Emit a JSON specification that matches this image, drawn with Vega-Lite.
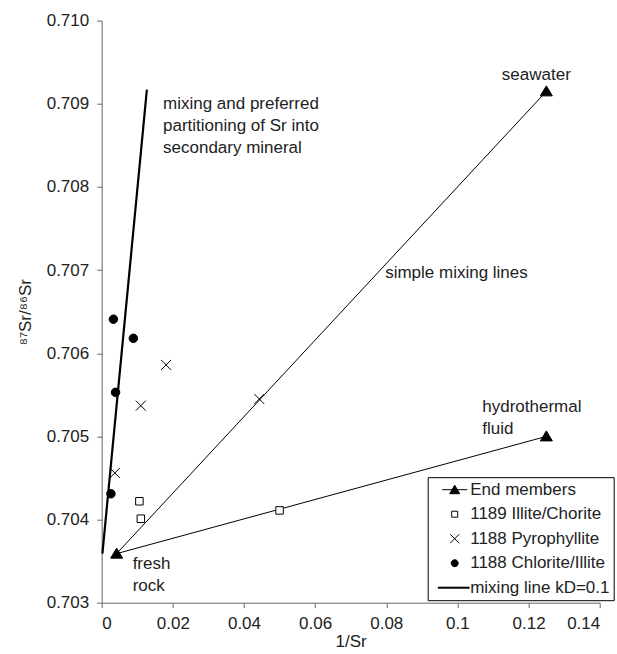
{
  "$schema": "https://vega.github.io/schema/vega-lite/v6.json",
  "autosize": {"type": "none"},
  "width": 498,
  "height": 582,
  "padding": {"left": 101.7, "top": 20.7, "right": 17, "bottom": 51},
  "background": "white",
  "config": {
    "font": "Liberation Sans",
    "view": {"stroke": null},
    "axis": {
      "grid": false,
      "domainColor": "#666",
      "tickColor": "#666",
      "labelColor": "#222",
      "titleColor": "#222",
      "labelFontSize": 17,
      "titleFontSize": 17,
      "titleFontWeight": "normal",
      "tickSize": 5,
      "labelFont": "Liberation Sans",
      "titleFont": "Liberation Sans"
    }
  },
  "datasets": {
    "main": [
      {"series": "End members", "name": "seawater", "seq": 1, "x": 0.125, "y": 0.70915},
      {"series": "End members", "name": "fresh rock", "seq": 2, "x": 0.0042, "y": 0.70359},
      {"series": "End members", "name": "hydrothermal fluid", "seq": 3, "x": 0.125, "y": 0.705},
      {"series": "1189 Illite/Chorite", "x": 0.0106, "y": 0.70422},
      {"series": "1189 Illite/Chorite", "x": 0.011, "y": 0.70401},
      {"series": "1189 Illite/Chorite", "x": 0.05, "y": 0.70411},
      {"series": "1188 Pyrophyllite", "x": 0.0181, "y": 0.70586},
      {"series": "1188 Pyrophyllite", "x": 0.011, "y": 0.70537},
      {"series": "1188 Pyrophyllite", "x": 0.0037, "y": 0.70456},
      {"series": "1188 Pyrophyllite", "x": 0.0443, "y": 0.70545},
      {"series": "1188 Chlorite/Illite", "x": 0.0033, "y": 0.70641},
      {"series": "1188 Chlorite/Illite", "x": 0.0089, "y": 0.70618},
      {"series": "1188 Chlorite/Illite", "x": 0.0039, "y": 0.70553},
      {"series": "1188 Chlorite/Illite", "x": 0.0026, "y": 0.70431},
      {"series": "mixing line kD=0.1", "seq": 1, "x": 0.0002, "y": 0.70359},
      {"series": "mixing line kD=0.1", "seq": 2, "x": 0.0127, "y": 0.70917}
    ],
    "notes": [
      {"label": "seawater", "x": 0.1125, "y": 0.70935},
      {"label": "mixing and preferred\npartitioning of Sr into\nsecondary mineral", "x": 0.01725, "y": 0.709},
      {"label": "simple mixing lines", "x": 0.0797, "y": 0.70696},
      {"label": "hydrothermal\nfluid", "x": 0.107, "y": 0.70535},
      {"label": "fresh\nrock", "x": 0.0087, "y": 0.70347}
    ]
  },
  "resolve": {
    "scale": {"shape": "independent", "fill": "independent", "stroke": "independent"},
    "legend": {"shape": "independent", "fill": "independent", "stroke": "independent"}
  },
  "layer": [
    {
      "data": {"name": "main"},
      "transform": [{"filter": "datum.series === 'End members'"}],
      "mark": {"type": "line", "color": "black", "strokeWidth": 1},
      "encoding": {
        "x": {
          "field": "x", "type": "quantitative",
          "scale": {"domain": [0, 0.14], "nice": false, "zero": false},
          "axis": {"values": [0, 0.02, 0.04, 0.06, 0.08, 0.1, 0.12, 0.14], "format": "~g", "title": "1/Sr", "labelPadding": 8, "titlePadding": 2}
        },
        "y": {
          "field": "y", "type": "quantitative",
          "scale": {"domain": [0.703, 0.71], "nice": false, "zero": false},
          "axis": {"values": [0.703, 0.704, 0.705, 0.706, 0.707, 0.708, 0.709, 0.71], "format": ".3f", "title": "⁸⁷Sr/⁸⁶Sr", "labelPadding": 8, "titlePadding": 12}
        },
        "order": {"field": "seq", "type": "quantitative"}
      }
    },
    {
      "data": {"name": "main"},
      "transform": [{"filter": "datum.series === 'mixing line kD=0.1'"}],
      "mark": {"type": "line", "color": "black", "strokeWidth": 2.2},
      "encoding": {
        "x": {"field": "x", "type": "quantitative"},
        "y": {"field": "y", "type": "quantitative"},
        "order": {"field": "seq", "type": "quantitative"}
      }
    },
    {
      "data": {"name": "main"},
      "transform": [{"filter": "datum.series !== 'mixing line kD=0.1'"}],
      "mark": {"type": "point", "filled": true, "stroke": "black", "strokeWidth": 1, "size": 100, "opacity": 1},
      "encoding": {
        "x": {"field": "x", "type": "quantitative"},
        "y": {"field": "y", "type": "quantitative"},
        "shape": {
          "field": "series", "type": "nominal", "legend": null,
          "scale": {
            "domain": ["End members", "1189 Illite/Chorite", "1188 Pyrophyllite", "1188 Chlorite/Illite"],
            "range": ["M0,-1.1L1.2,0.9L-1.2,0.9Z", "M-0.75,-0.75L0.75,-0.75L0.75,0.75L-0.75,0.75Z", "M-1,-1L1,1M-1,1L1,-1", "M-0.85,0A0.85,0.85,0,1,1,0.85,0A0.85,0.85,0,1,1,-0.85,0Z"]
          }
        },
        "fill": {
          "field": "series", "type": "nominal", "legend": null,
          "scale": {
            "domain": ["End members", "1189 Illite/Chorite", "1188 Pyrophyllite", "1188 Chlorite/Illite"],
            "range": ["black", "white", "white", "black"]
          }
        }
      }
    },
    {
      "data": {"name": "main"},
      "transform": [{"filter": "false"}],
      "mark": {"type": "point", "filled": true, "strokeWidth": 1, "size": 100, "opacity": 1},
      "encoding": {
        "x": {"field": "x", "type": "quantitative"},
        "y": {"field": "y", "type": "quantitative"},
        "shape": {
          "field": "series", "type": "nominal",
          "scale": {
            "domain": ["End members", "1189 Illite/Chorite", "1188 Pyrophyllite", "1188 Chlorite/Illite", "mixing line kD=0.1"],
            "range": ["M-2.5,0L2.5,0M0,-0.9L1,0.8L-1,0.8Z", "M-0.6,-0.6L0.6,-0.6L0.6,0.6L-0.6,0.6Z", "M-0.9,-0.9L0.9,0.9M-0.9,0.9L0.9,-0.9", "M-0.7,0A0.7,0.7,0,1,1,0.7,0A0.7,0.7,0,1,1,-0.7,0Z", "M-3.3,-0.1L2.9,-0.1L2.9,0.1L-3.3,0.1Z"]
          },
          "legend": {
            "title": null, "orient": "none", "legendX": 326, "legendY": 456.5,
            "padding": 4, "strokeColor": "black", "fillColor": "white",
            "labelFontSize": 17, "labelColor": "#222", "labelFont": "Liberation Sans",
            "rowPadding": 6.5, "symbolSize": 100, "symbolStrokeWidth": 1,
            "symbolOffset": 14.5, "labelOffset": 7, "cornerRadius": 0, "labelLimit": 300
          }
        },
        "fill": {
          "field": "series", "type": "nominal",
          "scale": {
            "domain": ["End members", "1189 Illite/Chorite", "1188 Pyrophyllite", "1188 Chlorite/Illite", "mixing line kD=0.1"],
            "range": ["black", "white", "white", "black", "black"]
          },
          "legend": {
            "title": null, "orient": "none", "legendX": 326, "legendY": 456.5,
            "padding": 4, "strokeColor": "black", "fillColor": "white",
            "labelFontSize": 17, "labelColor": "#222", "labelFont": "Liberation Sans",
            "rowPadding": 6.5, "symbolSize": 100, "symbolStrokeWidth": 1,
            "symbolOffset": 14.5, "labelOffset": 7, "cornerRadius": 0, "labelLimit": 300
          }
        },
        "stroke": {
          "field": "series", "type": "nominal",
          "scale": {
            "domain": ["End members", "1189 Illite/Chorite", "1188 Pyrophyllite", "1188 Chlorite/Illite", "mixing line kD=0.1"],
            "range": ["black", "black", "black", "black", "black"]
          },
          "legend": {
            "title": null, "orient": "none", "legendX": 326, "legendY": 456.5,
            "padding": 4, "strokeColor": "black", "fillColor": "white",
            "labelFontSize": 17, "labelColor": "#222", "labelFont": "Liberation Sans",
            "rowPadding": 6.5, "symbolSize": 100, "symbolStrokeWidth": 1,
            "symbolOffset": 14.5, "labelOffset": 7, "cornerRadius": 0, "labelLimit": 300
          }
        }
      }
    },
    {
      "data": {"name": "notes"},
      "mark": {"type": "text", "align": "left", "baseline": "middle", "fontSize": 17, "lineBreak": "\n", "lineHeight": 22, "color": "#222", "font": "Liberation Sans"},
      "encoding": {
        "x": {"field": "x", "type": "quantitative"},
        "y": {"field": "y", "type": "quantitative"},
        "text": {"field": "label", "type": "nominal"}
      }
    }
  ]
}
